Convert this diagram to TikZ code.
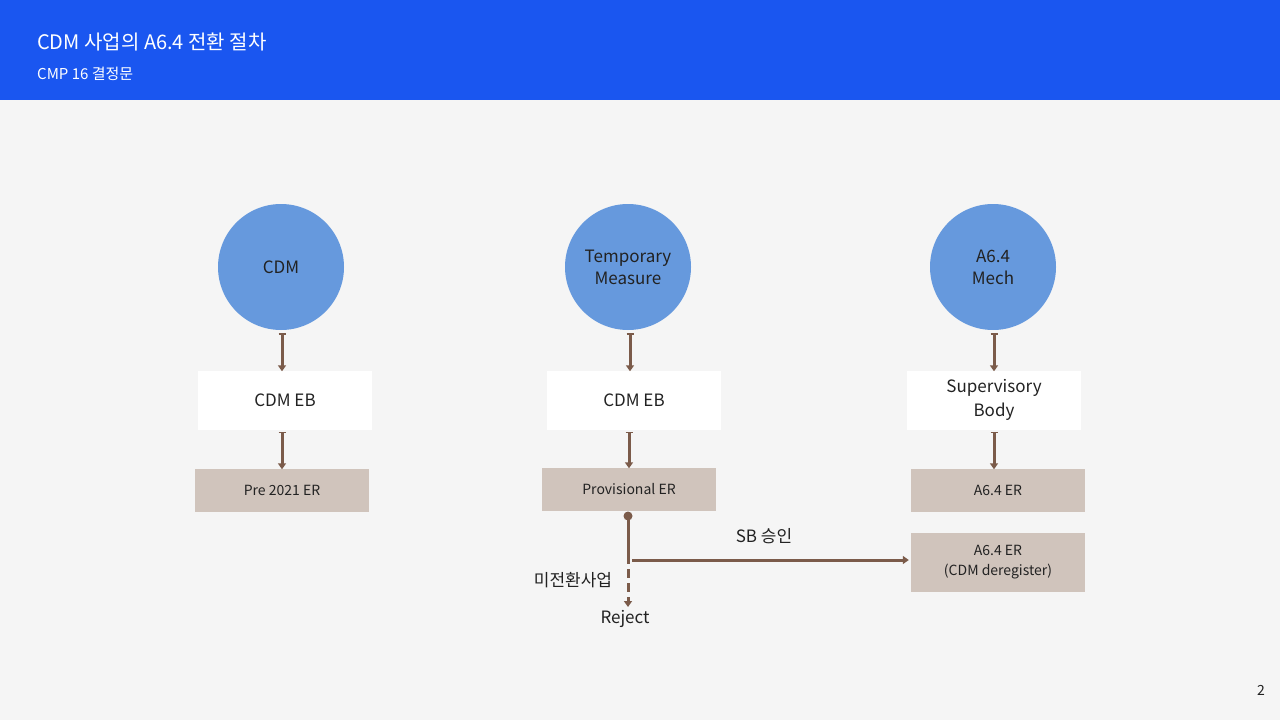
\documentclass[tikz,border=0pt]{standalone}
\usepackage{fontspec}
\setmainfont{Noto Sans CJK KR}
\usetikzlibrary{arrows.meta,positioning}
\definecolor{hdr}{HTML}{1A56F0}
\definecolor{bg}{HTML}{F5F5F5}
\definecolor{circ}{HTML}{6699DD}
\definecolor{tan}{HTML}{D0C4BC}
\definecolor{arr}{HTML}{7B5B4A}
\definecolor{txt}{HTML}{222222}
\tikzset{
  circnode/.style={circle,fill=circ,minimum size=126pt,inner sep=0pt,align=center,font=\fontsize{17}{22}\selectfont,text=txt},
  whitebox/.style={rectangle,fill=white,minimum width=174pt,minimum height=59pt,inner sep=0pt,align=center,font=\fontsize{17}{24}\selectfont,text=txt},
  tanbox/.style={rectangle,fill=tan,minimum width=174pt,minimum height=43pt,inner sep=0pt,align=center,font=\fontsize{14}{20}\selectfont,text=txt},
  conn/.style={draw=arr,line width=3pt,-{Triangle[length=6pt,width=8pt]}},
  tconn/.style={conn,{Bar[width=7pt,line width=1.5pt]}-{Triangle[length=6pt,width=8pt]}},
  lbl/.style={font=\fontsize{17}{20}\selectfont,text=txt,inner sep=0pt},
}
\begin{document}
\begin{tikzpicture}[x=1pt,y=-1pt]
\useasboundingbox (0,0) rectangle (1280,720);
\fill[bg] (0,0) rectangle (1280,720);
\fill[hdr] (0,0) rectangle (1280,100);
\node[anchor=west,text=white,font=\fontsize{20}{24}\selectfont,inner sep=0pt] (title) at (37,42) {CDM 사업의 A6.4 전환 절차};
\node[anchor=west,text=white,font=\fontsize{15}{18}\selectfont,inner sep=0pt] (sub) at (37,74) {CMP 16 결정문};
\node[font=\fontsize{14}{18}\selectfont,text=txt,inner sep=0pt] (pg) at (1261,690) {2};

% column 1
\node[circnode] (c1) at (281,267) {CDM};
\node[whitebox] (w1) at (285,400) {CDM EB};
\node[tanbox] (t1) at (282,490) {Pre 2021 ER};
% column 2
\node[circnode] (c2) at (628,267) {Temporary\\Measure};
\node[whitebox] (w2) at (634,400) {CDM EB};
\node[tanbox] (t2) at (629,489) {Provisional ER};
% column 3
\node[circnode] (c3) at (993,267) {A6.4\\Mech};
\node[whitebox] (w3) at (994,400) {Supervisory\\Body};
\node[tanbox] (t3) at (998,490) {A6.4 ER};
\node[tanbox,minimum height=59pt] (t4) at (998,562) {A6.4 ER\\(CDM deregister)};

\draw[tconn] ([yshift=-3pt]c1.south -| 282,0) -- ([yshift=-1pt]w1.north -| 282,0);
\draw[tconn] ([yshift=-2pt]w1.south -| 282,0) -- ([yshift=-1pt]t1.north -| 282,0);
\draw[tconn] ([yshift=-3pt]c2.south -| 630,0) -- ([yshift=-1pt]w2.north -| 630,0);
\draw[tconn] ([yshift=-2pt]w2.south -| 629,0) -- ([yshift=-1pt]t2.north -| 629,0);
\draw[tconn] ([yshift=-3pt]c3.south -| 994,0) -- ([yshift=-1pt]w3.north -| 994,0);
\draw[tconn] ([yshift=-2pt]w3.south -| 994,0) -- ([yshift=-1pt]t3.north -| 994,0);

% provisional branch
\coordinate (br) at (628,560);
\coordinate (rj) at (628,607);
\fill[arr] (628,516) circle (4.5pt);
\draw[arr,line width=3pt] (628,516) -- (br);
\draw[conn] ([xshift=4pt]br) -- ([xshift=-2pt]t4.west |- br);
\draw[conn,dash pattern=on 9pt off 5pt] ([yshift=5pt]br) -- (rj);
\node[lbl] (sb) at (764,536) {SB 승인};
\node[lbl] (mj) at (573,580) {미전환사업};
\node[lbl] (rej) at (625,619) {Reject};
\end{tikzpicture}
\end{document}
